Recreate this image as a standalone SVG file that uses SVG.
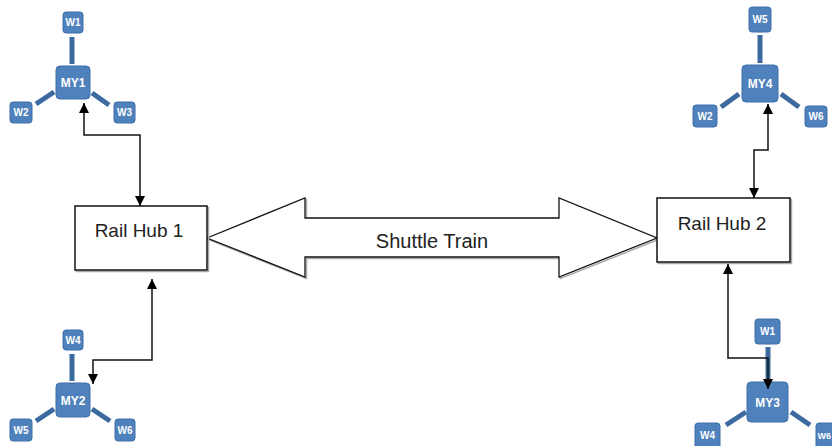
<svg xmlns="http://www.w3.org/2000/svg" width="832" height="446" viewBox="0 0 832 446">
<style>
.yard{fill:#4f81bd;stroke:#3e6ea8;stroke-width:1}
.link{stroke:#3d6a9e;stroke-width:5;fill:none}
.wl{font-family:"Liberation Sans",Arial,sans-serif;font-size:10px;font-weight:bold;fill:#fff;text-anchor:middle}
.ml{font-family:"Liberation Sans",Arial,sans-serif;font-size:12px;font-weight:bold;fill:#fff;text-anchor:middle}
.hub{fill:#fff;stroke:#111;stroke-width:1.5}
.shadow{fill:none;stroke:#aaa;stroke-width:1.5}
.ht{font-family:"Liberation Sans",Arial,sans-serif;font-size:19px;fill:#222;text-anchor:middle}
.conn{stroke:#111;stroke-width:1.5;fill:none;marker-start:url(#ah);marker-end:url(#ah)}
</style>
<defs>
<marker id="ah" viewBox="0 0 10 10" refX="10" refY="5" markerWidth="10" markerHeight="11" markerUnits="userSpaceOnUse" orient="auto-start-reverse">
<path d="M0,0 L10,5 L0,10 z" fill="#000"/>
</marker>
</defs>
<rect width="832" height="446" fill="#fff"/>

<g id="shuttle-train">
<polygon class="shadow" points="208.5,239.5 306.5,199.5 306.5,219.5 560.5,219.5 560.5,199.5 658.5,239.5 560.5,278.5 560.5,258.5 306.5,258.5 306.5,278.5"/>
<polygon points="207,238 305,198 305,218 559,218 559,198 657,238 559,277 559,257 305,257 305,277" fill="#fff" stroke="#111" stroke-width="1.3"/>
<text x="432" y="248" font-family="Liberation Sans,Arial,sans-serif" font-size="20" fill="#222" text-anchor="middle">Shuttle Train</text>
</g>

<g id="rail-hub-1">
<rect class="shadow" x="76.5" y="207.5" width="132" height="64"/>
<rect class="hub" x="75" y="206" width="132" height="64"/>
<text class="ht" x="139" y="237">Rail Hub 1</text>
</g>

<g id="rail-hub-2">
<rect class="shadow" x="658.5" y="199.5" width="133" height="64"/>
<rect class="hub" x="657" y="198" width="133" height="64"/>
<text class="ht" x="722" y="230">Rail Hub 2</text>
</g>

<g id="my1">
<line class="link" x1="72" y1="37" x2="72" y2="64"/>
<line class="link" x1="54" y1="92" x2="36" y2="104"/>
<line class="link" x1="92" y1="93" x2="109" y2="105"/>
<rect class="yard" x="63" y="12" width="20" height="21" rx="3"/>
<text class="wl" x="73" y="26">W1</text>
<rect class="yard" x="10" y="102" width="22" height="21" rx="3"/>
<text class="wl" x="21" y="116">W2</text>
<rect class="yard" x="114" y="102" width="21" height="21" rx="3"/>
<text class="wl" x="124.5" y="116">W3</text>
<rect class="yard" x="56" y="66" width="34" height="33" rx="4"/>
<text class="ml" x="73" y="87">MY1</text>
</g>

<g id="my2">
<line class="link" x1="72" y1="354" x2="72" y2="381"/>
<line class="link" x1="54" y1="409" x2="36" y2="421"/>
<line class="link" x1="92" y1="409" x2="110" y2="421"/>
<rect class="yard" x="63" y="330" width="20" height="20" rx="3"/>
<text class="wl" x="73" y="343.5">W4</text>
<rect class="yard" x="10" y="419" width="22" height="22" rx="3"/>
<text class="wl" x="21" y="433.5">W5</text>
<rect class="yard" x="115" y="419" width="20" height="22" rx="3"/>
<text class="wl" x="125" y="433.5">W6</text>
<rect class="yard" x="56" y="383" width="34" height="34" rx="4"/>
<text class="ml" x="73" y="404.5">MY2</text>
</g>

<g id="my4">
<line class="link" x1="760" y1="35" x2="760" y2="63"/>
<line class="link" x1="739" y1="94" x2="721" y2="107"/>
<line class="link" x1="781" y1="94" x2="799" y2="107"/>
<rect class="yard" x="749" y="7" width="22" height="25" rx="3"/>
<text class="wl" x="760" y="23">W5</text>
<rect class="yard" x="693" y="105" width="24" height="22" rx="3"/>
<text class="wl" x="705" y="119.5">W2</text>
<rect class="yard" x="805" y="106" width="22" height="21" rx="3"/>
<text class="wl" x="816" y="120">W6</text>
<rect class="yard" x="742" y="65" width="36" height="37" rx="4"/>
<text class="ml" x="760" y="88">MY4</text>
</g>

<g id="my3">
<line class="link" x1="768" y1="347" x2="768" y2="381"/>
<line class="link" x1="746" y1="412" x2="726" y2="425"/>
<line class="link" x1="791" y1="412" x2="810" y2="425"/>
<rect class="yard" x="755" y="319" width="25" height="25" rx="3"/>
<text class="wl" x="767.5" y="335">W1</text>
<rect class="yard" x="695" y="423" width="25" height="26" rx="3"/>
<text class="wl" x="707.5" y="439">W4</text>
<rect class="yard" x="816" y="423" width="25" height="26" rx="3"/>
<text x="831" y="439" font-family="Liberation Sans,Arial,sans-serif" font-size="9" font-weight="bold" fill="#fff" text-anchor="end">W6</text>
<rect class="yard" x="747" y="382" width="41" height="40" rx="4"/>
<text class="ml" x="767.5" y="406.5">MY3</text>
</g>

<g id="connectors">
<path class="conn" d="M84,103 V135 H140 V206"/>
<path class="conn" d="M152,279 V360 H93 V384"/>
<path class="conn" d="M768,104 V150 H754 V198"/>
<path class="conn" d="M728,264 V358 H768 V389"/>
</g>
</svg>
